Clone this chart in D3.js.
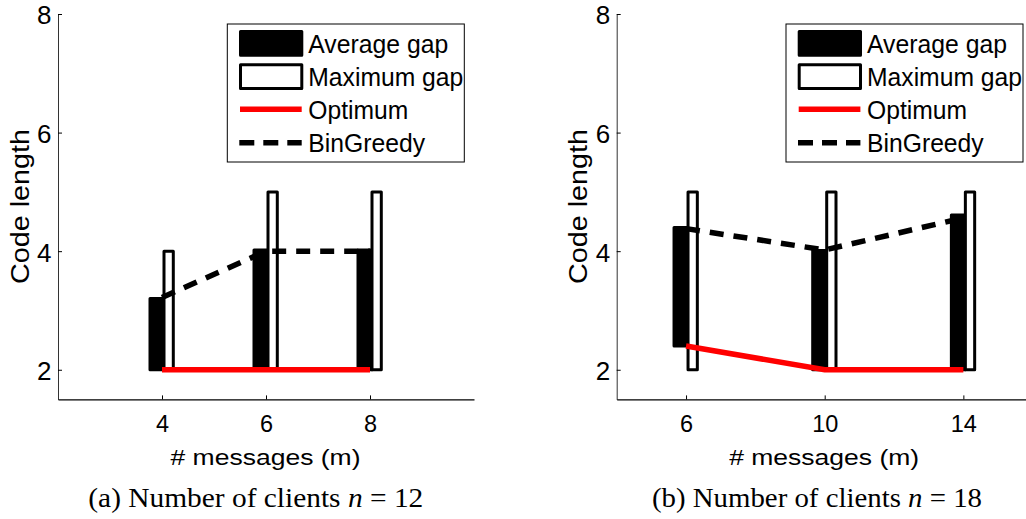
<!DOCTYPE html>
<html>
<head>
<meta charset="utf-8">
<script src="https://cdn.jsdelivr.net/npm/d3@7"></script>
<style>
  body { margin: 0; background: #fff; }
  svg { display: block; font-family: "Liberation Sans", Arial, sans-serif; }
</style>
</head>
<body>
<svg id="chart" width="1026" height="519"></svg>
<script>
// panel (a): n = 12
const msgA = [4, 6, 8];
const avgLowA = [2, 2, 2];
const avgA = [3.2, 4.02, 4.02];
const maxLowA = [2, 2, 2];
const maxA = [4, 5, 5];
const optA = [2, 2, 2];
const greedyA = [3.22, 4, 4];

// panel (b): n = 18
const msgB = [6, 10, 14];
const avgLowB = [2.4, 2, 2];
const avgB = [4.4, 4.01, 4.61];
const maxLowB = [2, 2, 2];
const maxB = [5, 5, 5];
const optB = [2.4, 2, 2];
const greedyB = [4.38, 4.02, 4.56];

const yTicks = [2, 4, 6, 8];
const legendLabels = ["Average gap", "Maximum gap", "Optimum", "BinGreedy"];

const svg = d3.select("#chart");

function drawPanel(p) {
    const g = svg.append("g");
    const x = d3.scaleLinear().domain(p.xDomain).range(p.xRange);
    const y = d3.scaleLinear().domain([1.5, 8]).range([399.4, 14]);

    // bars: black = average gap, white = maximum gap
    g.append("g").selectAll("rect")
        .data(p.msg).enter().append("rect")
        .attr("x", d => x(d) - 12)
        .attr("width", 14)
        .attr("y", (d, i) => y(p.avg[i]))
        .attr("height", (d, i) => y(p.avgLow[i]) - y(p.avg[i]))
        .attr("fill", "#000").attr("stroke", "#000")
        .attr("stroke-width", 3).attr("stroke-linejoin", "round");

    g.append("g").selectAll("rect")
        .data(p.msg).enter().append("rect")
        .attr("x", d => x(d) + 2)
        .attr("width", 9.3)
        .attr("y", (d, i) => y(p.max[i]))
        .attr("height", (d, i) => y(p.maxLow[i]) - y(p.max[i]))
        .attr("fill", "#fff").attr("stroke", "#000")
        .attr("stroke-width", 3).attr("stroke-linejoin", "round");

    const line = vals => d3.line().x(d => x(d)).y((d, i) => y(vals[i]))(p.msg);

    g.append("path").attr("d", line(p.opt))
        .attr("fill", "none").attr("stroke", "#ff0000").attr("stroke-width", 5.5);
    g.append("path").attr("d", line(p.greedy))
        .attr("fill", "none").attr("stroke", "#000").attr("stroke-width", 5.5)
        .attr("stroke-dasharray", "14,10");

    // axes
    const ya = g.append("g").attr("transform", `translate(${p.xRange[0]},0)`)
        .call(d3.axisLeft(y).tickValues(yTicks).tickFormat(d3.format("d"))
            .tickSizeInner(-4).tickSizeOuter(0).tickPadding(6.5));
    ya.selectAll("text").style("font-size", "26px").attr("fill", "#000").attr("dy", "0.38em")
        .style("font-family", "'Liberation Sans', Arial, sans-serif");
    ya.select(".domain").attr("stroke", "#333");

    const xa = g.append("g").attr("transform", "translate(0,399.4)")
        .call(d3.axisBottom(x).tickValues(p.msg).tickFormat(d3.format("d"))
            .tickSizeInner(-4).tickSizeOuter(0).tickPadding(16));
    xa.selectAll("text").style("font-size", "23.5px").attr("fill", "#000")
        .style("font-family", "'Liberation Sans', Arial, sans-serif");
    xa.select(".domain").attr("stroke", "#000").attr("stroke-width", 1.3);

    // axis titles
    g.append("text")
        .attr("transform", `translate(${p.xRange[0] - 29.5},206.5) rotate(-90)`)
        .attr("text-anchor", "middle")
        .attr("textLength", 155).attr("lengthAdjust", "spacingAndGlyphs")
        .style("font-size", "26.5px")
        .text("Code length");

    g.append("text")
        .attr("x", x(p.msg[1]) - 0.5).attr("y", 465)
        .attr("text-anchor", "middle")
        .attr("textLength", 190).attr("lengthAdjust", "spacingAndGlyphs")
        .style("font-size", "22.5px")
        .text("# messages (m)");

    // caption
    const cap = g.append("text")
        .attr("x", p.capX).attr("y", 507)
        .attr("text-anchor", "middle")
        .attr("textLength", p.capW).attr("lengthAdjust", "spacingAndGlyphs")
        .style("font-family", "'Liberation Serif', 'DejaVu Serif', serif")
        .style("font-size", "27px");
    cap.append("tspan").text(`(${p.tag}) Number of clients `);
    cap.append("tspan").style("font-style", "italic").text("n");
    cap.append("tspan").text(` = ${p.n}`);

    // legend
    const lg = g.append("g").attr("transform", `translate(${p.legX},24)`);
    lg.append("rect").attr("width", 237).attr("height", 138)
        .attr("fill", "#fff").attr("stroke", "#000").attr("stroke-width", 1);
    lg.append("rect").attr("x", 13.2).attr("y", 7.5).attr("width", 61.3).attr("height", 23.7)
        .attr("fill", "#000").attr("stroke", "#000").attr("stroke-width", 3).attr("stroke-linejoin", "round");
    lg.append("rect").attr("x", 13.2).attr("y", 40.8).attr("width", 61.3).attr("height", 23.7)
        .attr("fill", "#fff").attr("stroke", "#000").attr("stroke-width", 3).attr("stroke-linejoin", "round");
    lg.append("line").attr("x1", 12.7).attr("x2", 74.4).attr("y1", 85.3).attr("y2", 85.3)
        .attr("stroke", "#ff0000").attr("stroke-width", 5.5);
    lg.append("line").attr("x1", 12).attr("x2", 74.4).attr("y1", 118.7).attr("y2", 118.7)
        .attr("stroke", "#000").attr("stroke-width", 5.5).attr("stroke-dasharray", "15,9");
    const legW = [140, 155, 100, 116.7];
    lg.selectAll("text.lab")
        .data(legendLabels).enter().append("text")
        .attr("class", "lab")
        .attr("x", 81).attr("y", (d, i) => 29.3 + i * 32.8)
        .attr("textLength", (d, i) => legW[i]).attr("lengthAdjust", "spacingAndGlyphs")
        .style("font-size", "25.5px")
        .text(d => d);
}

drawPanel({
    msg: msgA, avg: avgA, avgLow: avgLowA, max: maxA, maxLow: maxLowA, opt: optA, greedy: greedyA,
    xDomain: [2, 10], xRange: [58, 474], legX: 227.3, capX: 255.8, capW: 335, tag: "a", n: 12
});
drawPanel({
    msg: msgB, avg: avgB, avgLow: avgLowB, max: maxB, maxLow: maxLowB, opt: optB, greedy: greedyB,
    xDomain: [4, 16], xRange: [616.7, 1032.7], legX: 786, capX: 817, capW: 330, tag: "b", n: 18
});
</script>
</body>
</html>
